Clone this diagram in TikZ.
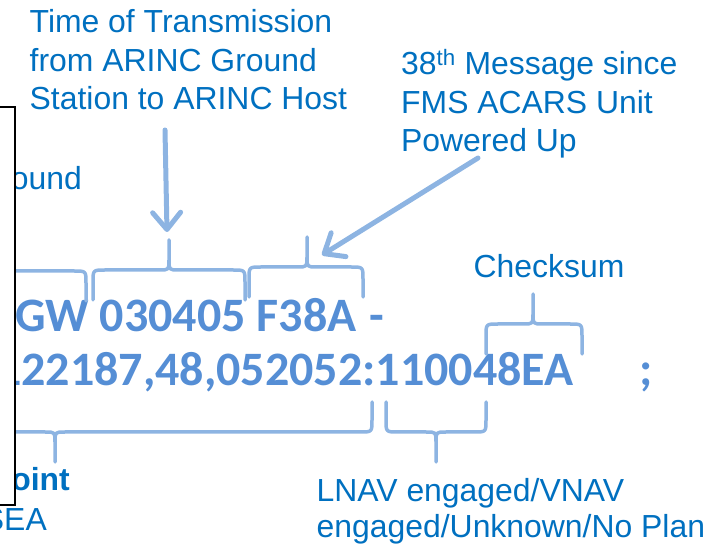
\documentclass[tikz,border=0pt]{standalone}
\usepackage{fontspec}
\setmainfont{Liberation Sans}
\newfontfamily\codefont{Carlito}
\usetikzlibrary{arrows.meta}

\definecolor{labelblue}{HTML}{0070C0}
\definecolor{codeblue}{HTML}{558ED5}
\definecolor{braceblue}{HTML}{8DB4E2}

% curly brace: left end, right end, tip, flat line, direction (1 = tip up, -1 = tip down)
\newcommand{\curly}[5]{%
  \begin{scope}[shift={(#3,#4)}, yscale=#5]
    \draw[bracepath] (#1-#3,30) -- (#1-#3,12) .. controls (#1-#3,0) .. (#1-#3+12,0)
      -- (-10,0) .. controls (0,0) .. (0,-10) -- (0,-30)
      (0,-10) .. controls (0,0) .. (10,0)
      -- (#2-#3-12,0) .. controls (#2-#3,0) .. (#2-#3,12) -- (#2-#3,30);
  \end{scope}}

\begin{document}
\begin{tikzpicture}[x=1pt, y=-1pt,
    note/.style={font=\fontsize{31.9}{38.5}\selectfont, text=labelblue, align=left, inner sep=0pt},
    codeline/.style={font=\codefont\bfseries\fontsize{48}{54}\selectfont, text=codeblue, inner sep=0pt},
    bracepath/.style={draw=braceblue, line width=3.5pt, line cap=round, line join=round},
    pointer/.style={draw=braceblue, line width=5pt, line cap=round,
      -{Straight Barb[round, length=17pt, width=28pt]}}]
    \useasboundingbox (0,0) rectangle (721,545);

    % Labels (base = last line)
    \node[note, anchor=base west] (timenote) at (29.5,110) {Time of Transmission\\from ARINC Ground\\Station to ARINC Host};
    \node[note, anchor=base west] (msgnote) at (401,152) {38\textsuperscript{th} Message since\\FMS ACARS Unit\\Powered Up};
    \node[note, anchor=base west] (checknote) at (473.5,278) {Checksum};
    \node[note, anchor=base east] (groundnote) at (82,190) {Ground};
    \node[note, font=\fontsize{31.9}{38.5}\selectfont\bfseries, anchor=base east] (pointnote) at (70,490) {Point};
    \node[note, anchor=base east] (airportnote) at (47,530) {SEA};
    \node[note, font=\fontsize{31.9}{35.5}\selectfont, anchor=base west] (modenote) at (316.5,537) {LNAV engaged/VNAV\\engaged/Unknown/No Plan};

    % Message lines
    \node[codeline, anchor=base west] (lineone) at (15,332) {GW 030405 F38A\hspace{2pt} -};
    \node[codeline, anchor=base west] (linetwo) at (-3,386) {122187,48,052052:110048EA\hspace{66pt};};

    % Braces above
    \curly{-60}{86}{0}{271}{1}
    \curly{93}{245}{169}{270}{1}
    \curly{249}{363}{307}{267}{1}
    \curly{486}{582}{533}{324}{1}

    % Braces below
    \curly{-262}{372}{55}{432}{-1}
    \curly{386}{486}{436}{432}{-1}

    % Arrows
    \coordinate (timetail) at (165,130);
    \coordinate (timehead) at (167,232);
    \draw[pointer] (timetail) -- (timehead);
    \coordinate (msgtail) at (478,158);
    \coordinate (msghead) at (322,255);
    \draw[pointer] (msgtail) -- (msghead);

    % Cover box at left
    \draw[line width=2pt, fill=white] (-10,107) rectangle (15,505);
\end{tikzpicture}
\end{document}
